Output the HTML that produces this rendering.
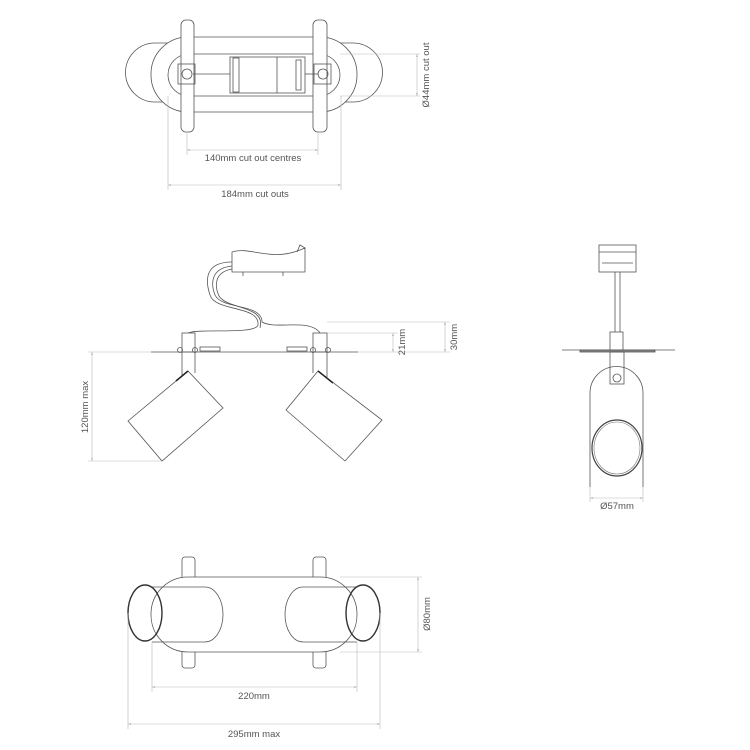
<!DOCTYPE html>
<html><head><meta charset="utf-8"><style>
html,body{margin:0;padding:0;background:#fff}
svg{display:block}
text{font-family:"Liberation Sans",sans-serif;font-size:9.5px;fill:#555}
</style></head><body>
<svg width="750" height="750" viewBox="0 0 750 750" xmlns="http://www.w3.org/2000/svg">
<defs>
<marker id="a" viewBox="0 0 10 10" refX="9" refY="5" markerWidth="6" markerHeight="6" orient="auto-start-reverse"><path d="M0,2 L10,5 L0,8 z" fill="#bbb"/></marker>
</defs>
<g fill="none" stroke="#555" stroke-width="0.8">
<!-- TOP VIEW -->
<path d="M170,43 L155,43 A29.5,29.5 0 0 0 155,102 L170,102" />
<path d="M338,43 L353,43 A29.5,29.5 0 0 1 353,102 L338,102" />
<rect x="151" y="37" width="206" height="75" rx="37" fill="#fff"/>
<rect x="168" y="54" width="172" height="42" rx="21"/>
<rect x="181" y="20" width="13" height="112" rx="5" fill="#fff"/>
<rect x="313" y="20" width="14" height="112" rx="5" fill="#fff"/>
<rect x="230" y="57" width="75" height="36" fill="#fff"/>
<line x1="277" y1="57" x2="277" y2="93"/>
<rect x="233" y="58" width="6" height="34"/>
<rect x="296" y="60" width="5" height="30"/>
<rect x="178" y="64" width="17" height="20"/><circle cx="187" cy="74" r="5"/>
<rect x="314" y="64" width="17" height="20"/><circle cx="323" cy="74" r="5"/>
<line x1="193" y1="74" x2="230" y2="74"/><line x1="305" y1="74" x2="318" y2="74"/>
<g stroke="#bbb" stroke-width="0.6">
<line x1="187" y1="132" x2="187" y2="155"/><line x1="318" y1="132" x2="318" y2="155"/>
<line x1="187" y1="150" x2="318" y2="150" marker-start="url(#a)" marker-end="url(#a)"/>
<line x1="168" y1="96" x2="168" y2="190"/><line x1="341" y1="96" x2="341" y2="190"/>
<line x1="168" y1="185" x2="341" y2="185" marker-start="url(#a)" marker-end="url(#a)"/>
<line x1="340" y1="54" x2="420" y2="54"/><line x1="340" y1="96" x2="420" y2="96"/>
<line x1="417" y1="54" x2="417" y2="96" marker-start="url(#a)" marker-end="url(#a)"/>
</g>
<!-- FRONT VIEW -->
<path d="M232,252 C250,246 270,262 300,250 L305,248 L305,272 L232,272 Z"/>
<path d="M297,252 L300,245 L305,248"/>
<line x1="243" y1="272" x2="243" y2="276"/><line x1="283" y1="272" x2="283" y2="276"/>
<path d="M232,262 C205,262 205,280 210,295 C215,312 260,305 258,325 C255,335 200,328 188,333"/>
<path d="M232,266 C212,268 210,282 215,295 C222,310 262,303 262,322 C275,330 310,318 320,333"/>
<path d="M232,269 C215,272 214,285 219,296 C228,310 266,305 260,328"/>
<line x1="151" y1="352" x2="358" y2="352"/>
<rect x="182" y="333" width="13" height="19"/><rect x="313" y="333" width="14" height="19"/>
<line x1="182" y1="352" x2="182" y2="377"/><line x1="195" y1="352" x2="195" y2="373"/>
<line x1="313" y1="352" x2="313" y2="373"/><line x1="327" y1="352" x2="327" y2="377"/>
<circle cx="180" cy="350" r="2.5"/><circle cx="195" cy="350" r="2.5"/>
<circle cx="313" cy="350" r="2.5"/><circle cx="328" cy="350" r="2.5"/>
<rect x="200" y="347" width="20" height="4"/><rect x="287" y="347" width="20" height="4"/>
<polygon points="188,371 223,408 162,461 128,421" fill="#fff"/>
<line x1="188" y1="371" x2="176" y2="381" stroke="#222" stroke-width="1.5"/>
<polygon points="318,371 382,420 345,461 286,410" fill="#fff"/>
<line x1="318" y1="371" x2="333" y2="383" stroke="#222" stroke-width="1.5"/>
<g stroke="#bbb" stroke-width="0.6">
<line x1="327" y1="322" x2="450" y2="322"/><line x1="327" y1="333" x2="398" y2="333"/>
<line x1="358" y1="352" x2="450" y2="352"/>
<line x1="393" y1="333" x2="393" y2="352" marker-start="url(#a)" marker-end="url(#a)"/>
<line x1="445" y1="322" x2="445" y2="352" marker-start="url(#a)" marker-end="url(#a)"/>
<line x1="88" y1="352" x2="151" y2="352"/><line x1="88" y1="461" x2="162" y2="461"/>
<line x1="92" y1="352" x2="92" y2="461" marker-start="url(#a)" marker-end="url(#a)"/>
</g>
<!-- SIDE VIEW -->
<rect x="599" y="245" width="37" height="27"/>
<line x1="599" y1="252" x2="636" y2="252"/><line x1="602" y1="263" x2="633" y2="263"/>
<line x1="615" y1="272" x2="615" y2="332"/><line x1="620" y1="272" x2="620" y2="332"/>
<rect x="610" y="332" width="13" height="18"/>
<line x1="562" y1="350" x2="675" y2="350"/>
<rect x="580" y="350" width="75" height="2" fill="#888"/>
<path d="M590,487 L590,393 A26.5,26.5 0 0 1 643,393 L643,487"/>
<rect x="610" y="352" width="14" height="32"/>
<circle cx="617" cy="378" r="4"/>
<ellipse cx="617" cy="448" rx="25" ry="28" stroke="#444" stroke-width="1.2"/>
<ellipse cx="617" cy="448" rx="23" ry="26" stroke="#777" stroke-width="0.6"/>
<g stroke="#bbb" stroke-width="0.6">
<line x1="590" y1="487" x2="590" y2="502"/><line x1="643" y1="487" x2="643" y2="502"/>
<line x1="590" y1="498" x2="643" y2="498" marker-start="url(#a)" marker-end="url(#a)"/>
</g>
<!-- BOTTOM VIEW -->
<rect x="182" y="557" width="13" height="111" rx="3"/>
<rect x="313" y="557" width="13" height="111" rx="3"/>
<rect x="151" y="577" width="206" height="75" rx="37" fill="#fff"/>
<path d="M152,587 L205,587 A18,27.5 0 0 1 205,642 L152,642"/>
<path d="M357,587 L303,587 A18,27.5 0 0 0 303,642 L357,642"/>
<ellipse cx="145" cy="613" rx="17" ry="28" stroke="#333" stroke-width="1.4" fill="none"/>
<ellipse cx="363" cy="613" rx="17" ry="28" stroke="#333" stroke-width="1.4" fill="none"/>
<g stroke="#bbb" stroke-width="0.6">
<line x1="340" y1="577" x2="422" y2="577"/><line x1="340" y1="652" x2="422" y2="652"/>
<line x1="418" y1="577" x2="418" y2="652" marker-start="url(#a)" marker-end="url(#a)"/>
<line x1="152" y1="642" x2="152" y2="692"/><line x1="357" y1="642" x2="357" y2="692"/>
<line x1="152" y1="687" x2="357" y2="687" marker-start="url(#a)" marker-end="url(#a)"/>
<line x1="128" y1="613" x2="128" y2="729"/><line x1="380" y1="613" x2="380" y2="729"/>
<line x1="128" y1="724" x2="380" y2="724" marker-start="url(#a)" marker-end="url(#a)"/>
</g>
</g>
<text x="253" y="161" text-anchor="middle">140mm cut out centres</text>
<text x="255" y="197" text-anchor="middle">184mm cut outs</text>
<text transform="translate(429,75) rotate(-90)" text-anchor="middle">Ø44mm cut out</text>
<text transform="translate(405,342) rotate(-90)" text-anchor="middle">21mm</text>
<text transform="translate(457,337) rotate(-90)" text-anchor="middle">30mm</text>
<text transform="translate(88,407) rotate(-90)" text-anchor="middle">120mm max</text>
<text x="617" y="509" text-anchor="middle">Ø57mm</text>
<text transform="translate(430,614) rotate(-90)" text-anchor="middle">Ø80mm</text>
<text x="254" y="699" text-anchor="middle">220mm</text>
<text x="254" y="737" text-anchor="middle">295mm max</text>
</svg>
</body></html>
